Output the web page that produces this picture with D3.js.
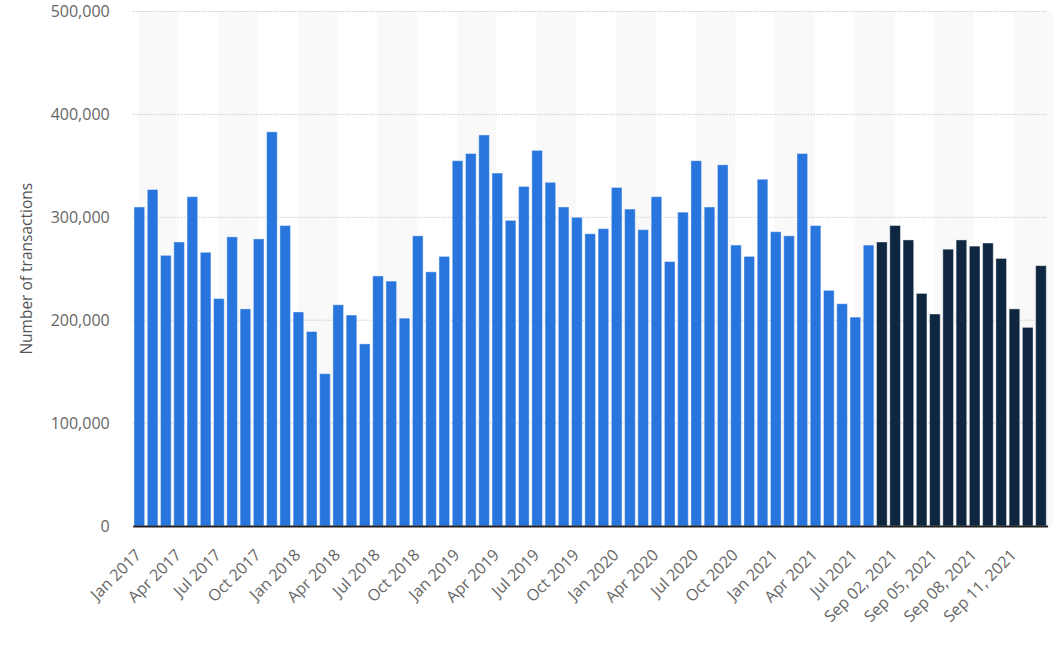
<!DOCTYPE html>
<html>
<head>
<meta charset="utf-8">
<script src="https://cdn.jsdelivr.net/npm/d3@7"></script>
<style>
  body { margin: 0; background: #fff; }
  svg text { font-family: "Open Sans", "Noto Sans", sans-serif; }
</style>
</head>
<body>
<div id="chart"></div>
<script>
// monthly totals Jan 2017 - Aug 2021, then daily Sep 01 - Sep 13, 2021
const categories = [
  "Jan 2017","Feb 2017","Mar 2017","Apr 2017","May 2017","Jun 2017","Jul 2017","Aug 2017","Sep 2017","Oct 2017","Nov 2017","Dec 2017",
  "Jan 2018","Feb 2018","Mar 2018","Apr 2018","May 2018","Jun 2018","Jul 2018","Aug 2018","Sep 2018","Oct 2018","Nov 2018","Dec 2018",
  "Jan 2019","Feb 2019","Mar 2019","Apr 2019","May 2019","Jun 2019","Jul 2019","Aug 2019","Sep 2019","Oct 2019","Nov 2019","Dec 2019",
  "Jan 2020","Feb 2020","Mar 2020","Apr 2020","May 2020","Jun 2020","Jul 2020","Aug 2020","Sep 2020","Oct 2020","Nov 2020","Dec 2020",
  "Jan 2021","Feb 2021","Mar 2021","Apr 2021","May 2021","Jun 2021","Jul 2021","Aug 2021",
  "Sep 01, 2021","Sep 02, 2021","Sep 03, 2021","Sep 04, 2021","Sep 05, 2021","Sep 06, 2021","Sep 07, 2021",
  "Sep 08, 2021","Sep 09, 2021","Sep 10, 2021","Sep 11, 2021","Sep 12, 2021","Sep 13, 2021"
]
const monthly = [
  310000,327000,263000,276000,320000,266000,221000,281000,211000,279000,383000,292000,
  208000,189000,148000,215000,205000,177000,243000,238000,202000,282000,247000,262000,
  355000,362000,380000,343000,297000,330000,365000,334000,310000,300000,284000,289000,
  329000,308000,288000,320000,257000,305000,355000,310000,351000,273000,262000,337000,
  286000,282000,362000,292000,229000,216000,203000,273000
]
const daily = [276000,292000,278000,226000,206000,269000,278000,272000,275000,260000,211000,193000,253000]
const yTicks = [0,100000,200000,300000,400000,500000]

const values = monthly.concat(daily)
const data = categories.map((c,i)=>({ cat:c, value:values[i], daily: i>=monthly.length }))

const W = 1057, H = 647
const margin = { left:132.7, right:9.4, top:11.5, bottom:121 }

const svg = d3.select("#chart").append("svg")
	.attr("width",W).attr("height",H)

const x = d3.scaleBand()
	.domain(categories)
	.range([margin.left, W-margin.right])
	.paddingInner(0.2)
	.paddingOuter(0.1)

const y = d3.scaleLinear()
	.domain([0,500000])
	.range([H-margin.bottom, margin.top])

// alternating background bands, 3 bars wide
const bands = categories.filter((c,i)=>i%6==0)
svg.append("g").selectAll("rect").data(bands).enter().append("rect")
	.attr("x",d=>x(d)+x.step()*0.35)
	.attr("y",y(500000))
	.attr("width",x.step()*3)
	.attr("height",y(0)-y(500000))
	.style("fill","#f9f9f9")

// grid
svg.append("g").selectAll("line").data(yTicks.slice(1)).enter().append("line")
	.attr("x1",margin.left).attr("x2",W-margin.right)
	.attr("y1",d=>y(d)).attr("y2",d=>y(d))
	.style("stroke","#c8c8c8")
	.style("stroke-width",1)
	.style("stroke-dasharray","1.5,1.5")

// bars
svg.append("g").selectAll("rect").data(data).enter().append("rect")
	.attr("x",d=>x(d.cat))
	.attr("y",d=>y(d.value))
	.attr("width",x.bandwidth())
	.attr("height",d=>y(0)-y(d.value))
	.style("fill",d=>d.daily ? "#0f2640" : "#2876dd")
	.style("stroke","rgba(255,255,255,0.4)")
	.style("stroke-width",1)

// y axis
const yAxis = svg.append("g")
	.attr("transform","translate("+(margin.left-20)+",0)")
	.call(d3.axisLeft(y).tickValues(yTicks).tickSize(0).tickFormat(d3.format(",")))
yAxis.select(".domain").remove()
yAxis.selectAll("text")
	.style("font-size","16px")
	.style("fill","#666")
	.attr("dy","0.34em")

// x axis
const xAxis = svg.append("g")
	.attr("transform","translate(0,"+y(0)+")")
	.call(d3.axisBottom(x).tickValues(categories.filter((c,i)=>i%3==0)).tickSize(0))
xAxis.select(".domain")
	.style("stroke","#222")
	.style("stroke-width",2)
xAxis.selectAll("text")
	.style("font-size","16px")
	.style("fill","#666")
	.style("text-anchor","end")
	.attr("dy",null)
	.attr("y",0)
	.attr("transform","translate(3,30) rotate(-45)")

svg.append("text")
	.attr("transform","translate(32,"+((y(0)+y(500000))/2)+") rotate(-90)")
	.attr("text-anchor","middle")
	.style("font-size","15.5px")
	.style("fill","#555")
	.text("Number of transactions")
</script>
</body>
</html>
